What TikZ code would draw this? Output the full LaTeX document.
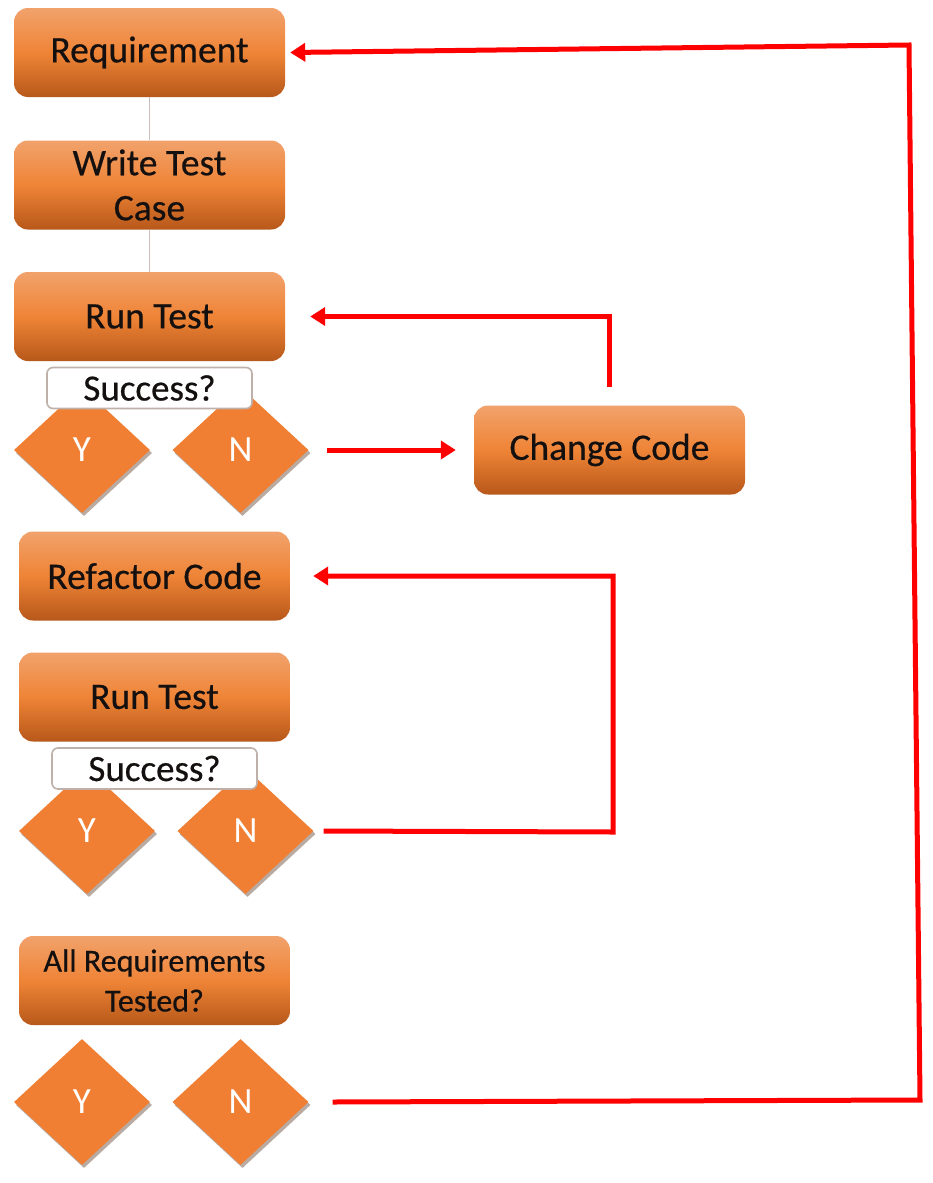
\documentclass[tikz,border=0pt]{standalone}
\usepackage{fontspec}
\setmainfont{Carlito}[BoldFont=Carlito,BoldFeatures={FakeBold=0.5}]
\usetikzlibrary{shapes.geometric,shadows,arrows.meta}
\definecolor{boxtop}{HTML}{F1A26C}
\definecolor{boxmid}{HTML}{EF8436}
\definecolor{boxbot}{HTML}{B7581A}
\definecolor{dia}{HTML}{F07F33}
\definecolor{diashadow}{HTML}{B9AAA2}
\definecolor{succborder}{HTML}{BFB0AA}
\definecolor{txt}{HTML}{151010}
\definecolor{arrowred}{HTML}{FF0000}
\definecolor{thinline}{HTML}{CDC0BC}
\begin{document}
\begin{tikzpicture}[x=1pt,y=-1pt,
  stepbox/.style={rectangle,rounded corners=14pt,minimum width=271pt,minimum height=89pt,
    inner sep=0pt,top color=boxtop,bottom color=boxbot,middle color=boxmid,
    text=txt,align=center,font=\fontsize{37.5}{45}\selectfont\bfseries},
  smallbox/.style={stepbox,font=\fontsize{32}{40}\selectfont\bfseries},
  decision/.style={diamond,minimum width=136pt,minimum height=126pt,inner sep=0pt,
    fill=dia,text=white,font=\fontsize{37}{40}\selectfont,
    drop shadow={shadow xshift=2pt,shadow yshift=-3pt,fill=diashadow,opacity=1}},
  succbox/.style={rectangle,rounded corners=6pt,minimum width=205pt,minimum height=41pt,
    inner sep=0pt,fill=white,draw=succborder,line width=1.6pt,text=txt,
    font=\fontsize{37}{40}\selectfont\bfseries},
  redarrow/.style={draw=arrowred,line width=5pt,-{Triangle[length=15pt,width=18pt]}},
  greyline/.style={draw=thinline,line width=1pt}]
\useasboundingbox[fill=white] (0,0) rectangle (932,1183);

% main column
\node[stepbox] (req) at (149.5,52.5) {Requirement};
\node[stepbox] (wtc) at (149.5,185) {Write Test\\Case};
\node[stepbox] (rt1) at (149.5,316.5) {Run Test};
\draw[greyline] (req) -- (wtc);
\draw[greyline] (wtc) -- (rt1);

\node[decision] (y1) at (82,450) {Y};
\node[decision] (n1) at (240.5,450) {N};
\node[succbox] (s1) at (149.5,388) {Success?};

\node[stepbox] (chg) at (609.5,450) {Change Code};

\node[stepbox] (ref) at (154.5,576) {Refactor Code};
\node[stepbox] (rt2) at (154.5,697) {Run Test};
\node[decision] (y2) at (87,831) {Y};
\node[decision] (n2) at (245.5,831) {N};
\node[succbox] (s2) at (154.5,768.5) {Success?};

\node[smallbox] (all) at (154.5,980.5) {All Requirements\\Tested?};
\node[decision] (y3) at (82,1102) {Y};
\node[decision] (n3) at (240.5,1102) {N};

% red connectors
\draw[redarrow] ([xshift=18pt]n1.east) -- ([xshift=-18pt]chg.west);
\draw[redarrow] ([yshift=18pt]chg.north) |- ([xshift=25pt]rt1.east);

\coordinate (k2) at (613,832);
\draw[redarrow,line join=miter] ([xshift=10pt]n2.east) -- (k2) |- ([xshift=23pt]ref.east);

\coordinate (k3a) at (920,1100);
\coordinate (k3b) at (909,45);
\draw[redarrow,line join=miter] ([xshift=24pt]n3.east) -- (k3a) -- (k3b) -- ([xshift=5pt]req.east);
\end{tikzpicture}
\end{document}
